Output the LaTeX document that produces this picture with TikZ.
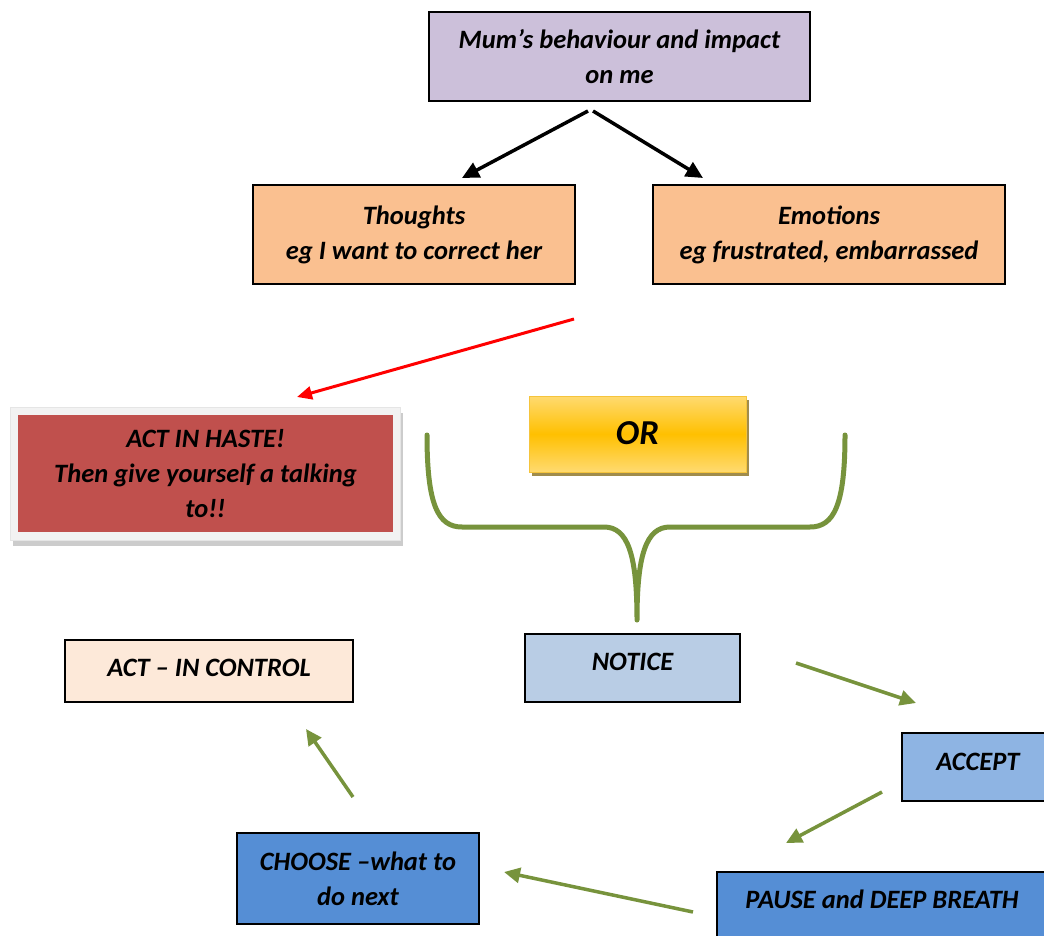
\documentclass[tikz,border=0pt]{standalone}
\usepackage{fontspec}
\setmainfont{Carlito}
\usetikzlibrary{arrows.meta,shadows}

\definecolor{mumfill}{HTML}{CCC0DA}
\definecolor{peach}{HTML}{FAC090}
\definecolor{hastered}{HTML}{C0504D}
\definecolor{noticeblue}{HTML}{B9CDE5}
\definecolor{acceptblue}{HTML}{8EB4E3}
\definecolor{deepblue}{HTML}{558ED5}
\definecolor{paleorange}{HTML}{FDE9D9}
\definecolor{leaf}{HTML}{77933C}
\definecolor{goldtop}{HTML}{FFDA70}
\definecolor{goldmid}{HTML}{FFC000}
\definecolor{goldedge}{HTML}{F5C43C}
\definecolor{goldshadow}{HTML}{A08C4C}
\definecolor{framegray}{HTML}{F2F2F2}

\tikzset{
  lbl/.style={font=\bfseries\itshape\fontsize{26.5}{35}\selectfont, text=black, align=center, inner sep=0pt},
  box/.style={lbl, draw=black, line width=1.3pt},
  oneline/.style={text height=18pt, text depth=#1},
  blackarrow/.style={line width=3.5pt, -{Triangle[length=17pt,width=16pt]}},
  redarrow/.style={draw=red, line width=3pt, -{Triangle[length=15pt,width=13pt]}, red},
  greenarrow/.style={draw=leaf, line width=3.5pt, -{Triangle[length=16pt,width=15pt]}, leaf},
}

\begin{document}
\begin{tikzpicture}[x=1pt,y=-1pt]
\useasboundingbox[fill=white] (0,0) rectangle (1044,936);

% top of the tree
\node[box, fill=mumfill, minimum width=381, minimum height=89] (mum) at (619.5,56.5)
  {Mum’s behaviour and impact\\on me};
\node[box, fill=peach, minimum width=322, minimum height=99] (thoughts) at (414,234.5)
  {Thoughts\\eg I want to correct her};
\node[box, fill=peach, minimum width=352, minimum height=99] (emotions) at (829,234.5)
  {Emotions\\eg frustrated, embarrassed};

\coordinate (mumL) at (588,111);
\coordinate (mumR) at (593,111);
\coordinate (thoughtsT) at (462,178);
\coordinate (emotionsT) at (703,178);
\draw[blackarrow] (mumL) -- (thoughtsT);
\draw[blackarrow] (mumR) -- (emotionsT);

% the hasty reaction
\node[fill=framegray, draw=black!10, line width=0.8pt, minimum width=390, minimum height=133, inner sep=0pt,
      drop shadow={shadow xshift=3pt, shadow yshift=-6pt, fill=black, opacity=0.2}] (hasteframe) at (205,473.5) {};
\node[lbl, fill=hastered, minimum width=375, minimum height=117] (haste) at (205.5,473.5)
  {ACT IN HASTE!\\Then give yourself a talking\\to!!};
\coordinate (redfrom) at (574,319);
\coordinate (redto) at (297,397);
\draw[redarrow] (redfrom) -- (redto);

% OR badge
\fill[goldshadow] (532,400) rectangle (749,476);
\node[lbl, draw=goldedge, line width=1pt, top color=goldtop, bottom color=goldtop, middle color=goldmid,
      minimum width=217, minimum height=76, text height=24pt, text depth=4pt,
      font=\bfseries\itshape\fontsize{35}{40}\selectfont] (or) at (637.5,434) {OR};

% brace gathering the two branches
\coordinate (braceL) at (427,435);
\coordinate (braceR) at (845,435);
\coordinate (braceTip) at (637,620);
\draw[leaf, line width=5pt, line cap=round, line join=round]
  (braceL) .. controls (427,505) and (438,527) .. (462,527) -- (604,527)
  .. controls (628,527) and (637,555) .. (braceTip)
  .. controls (637,555) and (646,527) .. (670,527) -- (810,527)
  .. controls (834,527) and (845,505) .. (braceR);

% the mindful cycle
\node[box, fill=noticeblue, minimum width=215, minimum height=68, oneline=14pt] (notice) at (632.5,668) {NOTICE};
\node[box, fill=acceptblue, minimum width=152, minimum height=68, oneline=12pt] (accept) at (978,767) {ACCEPT};
\node[box, fill=deepblue, minimum width=330, minimum height=80, oneline=26pt] (pause) at (882,912) {PAUSE and DEEP BREATH};
\node[box, fill=deepblue, minimum width=242, minimum height=91] (choose) at (358,878.5) {CHOOSE –what to\\do next};
\node[box, fill=paleorange, minimum width=288, minimum height=62, oneline=8pt] (control) at (209,671) {ACT – IN CONTROL};

\coordinate (g1a) at (796,663);
\coordinate (g1b) at (916,703);
\coordinate (g2a) at (882,792);
\coordinate (g2b) at (786,843);
\coordinate (g3a) at (693,912);
\coordinate (g3b) at (504,872);
\coordinate (g4a) at (353,797);
\coordinate (g4b) at (306,729);
\draw[greenarrow] (g1a) -- (g1b);
\draw[greenarrow] (g2a) -- (g2b);
\draw[greenarrow] (g3a) -- (g3b);
\draw[greenarrow] (g4a) -- (g4b);
\end{tikzpicture}
\end{document}
